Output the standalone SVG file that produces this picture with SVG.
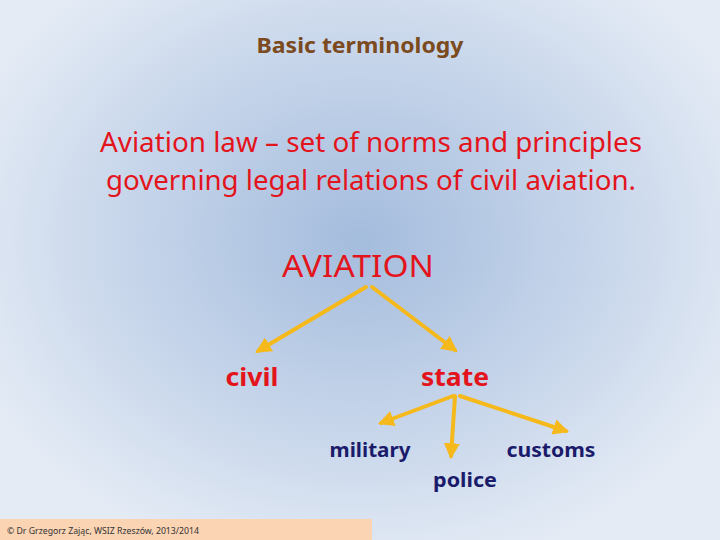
<svg xmlns="http://www.w3.org/2000/svg" width="720" height="540" viewBox="0 0 720 540">
<defs>
<radialGradient id="bg" cx="360" cy="240" r="420" gradientUnits="userSpaceOnUse" gradientTransform="translate(360 240) scale(1 0.8) translate(-360 -240)">
<stop offset="0" stop-color="#a4bcdd"/>
<stop offset="0.55" stop-color="#c6d5ea"/>
<stop offset="1" stop-color="#e4ebf5"/>
</radialGradient>
<marker id="ah" viewBox="0 0 10 10" refX="8" refY="5" markerWidth="4" markerHeight="4" orient="auto" markerUnits="strokeWidth">
<path d="M0,0 L10,5 L0,10 z" fill="#f6b91c"/>
</marker>
<style>
.t{font-family:"Noto Sans","DejaVu Sans",sans-serif;text-anchor:middle}
.red{fill:#e3141c}
.nav{fill:#1b1b6b;font-weight:bold;font-size:20px}
.c{stroke:#f6b91c;stroke-width:4;fill:none;marker-end:url(#ah);stroke-linecap:round}
</style>
</defs>
<rect width="720" height="540" fill="url(#bg)"/>
<rect x="0" y="519" width="372" height="21" fill="#fbd4b4"/>
<text class="t" x="360" y="53" font-size="21" font-weight="bold" fill="#7b4a1e" textLength="207" lengthAdjust="spacingAndGlyphs">Basic terminology</text>
<text class="t red" x="371" y="152" font-size="27" textLength="542" lengthAdjust="spacingAndGlyphs">Aviation law – set of norms and principles</text>
<text class="t red" x="371" y="190" font-size="27" textLength="530" lengthAdjust="spacingAndGlyphs">governing legal relations of civil aviation.</text>
<g id="aviation"><text class="t red" x="358" y="277" font-size="31" textLength="152" lengthAdjust="spacingAndGlyphs">AVIATION</text></g>
<g id="civil"><text class="t red" x="252" y="386" font-size="25" font-weight="bold" textLength="53" lengthAdjust="spacingAndGlyphs">civil</text></g>
<g id="state"><text class="t red" x="455" y="386" font-size="25" font-weight="bold" textLength="68" lengthAdjust="spacingAndGlyphs">state</text></g>
<g id="military"><text class="t nav" x="370" y="457" textLength="81" lengthAdjust="spacingAndGlyphs">military</text></g>
<g id="police"><text class="t nav" x="465" y="487" textLength="64" lengthAdjust="spacingAndGlyphs">police</text></g>
<g id="customs"><text class="t nav" x="551" y="457" textLength="89" lengthAdjust="spacingAndGlyphs">customs</text></g>
<g id="connectors">
<line class="c" x1="366" y1="287" x2="258" y2="351"/>
<line class="c" x1="372" y1="287" x2="455" y2="350"/>
<line class="c" x1="453" y1="396" x2="381" y2="423"/>
<line class="c" x1="455" y1="396" x2="451" y2="456"/>
<line class="c" x1="460" y1="396" x2="566" y2="431"/>
</g>
<text x="7" y="534" font-family="Noto Sans, sans-serif" font-size="8.5" fill="#333" textLength="192" lengthAdjust="spacingAndGlyphs">© Dr Grzegorz Zając, WSIZ Rzeszów, 2013/2014</text>
</svg>
